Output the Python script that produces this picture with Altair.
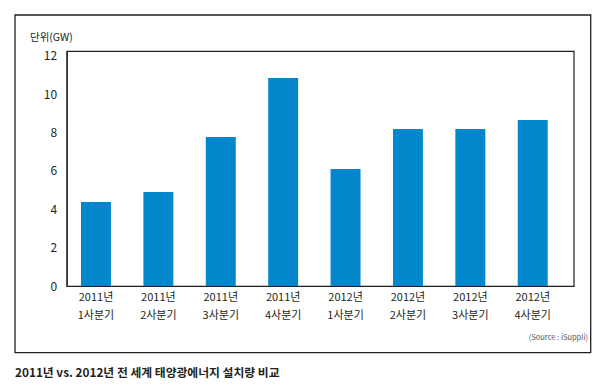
import altair as alt
import pandas as pd

years = ["2011년", "2011년", "2011년", "2011년", "2012년", "2012년", "2012년", "2012년"]
quarters = ["1사분기", "2사분기", "3사분기", "4사분기", "1사분기", "2사분기", "3사분기", "4사분기"]
values = [4.38, 4.9, 7.77, 10.85, 6.1, 8.19, 8.19, 8.66]
y_ticks = [0, 2, 4, 6, 8, 10, 12]

title_text = "2011년 vs. 2012년 전 세계 태양광에너지 설치량 비교"
unit_text = "단위(GW)"
source_text = "(Source : iSuppli)"

FONT = "Noto Sans CJK KR"
W, H = 507, 235

df = pd.DataFrame({
    "cat": [f"{y}\n{q}" for y, q in zip(years, quarters)],
    "value": values,
})
one = pd.DataFrame({"a": [0]})

bars = alt.Chart(df).mark_bar(color="#0386cc").encode(
    x=alt.X("cat:N", sort=None,
            scale=alt.Scale(paddingInner=0.52, paddingOuter=0.323, align=0.355),
            axis=alt.Axis(title=None, labelAngle=0, ticks=False, domain=True,
                          domainColor="#231f20", domainWidth=1.2,
                          labelExpr="split(datum.label, '\\n')",
                          labelFont=FONT, labelFontSize=11, labelColor="#231f20",
                          labelLineHeight=18, labelPadding=5, labelBaseline="top")),
    y=alt.Y("value:Q",
            scale=alt.Scale(domain=[0, 12.26], nice=False, zero=True),
            axis=alt.Axis(title=None, values=y_ticks, ticks=False, grid=False,
                          domain=True, domainColor="#231f20", domainWidth=1.2,
                          labelFont=FONT, labelFontSize=12, labelColor="#231f20",
                          labelPadding=10)),
)

frame = alt.Chart(one).mark_rect(fill=None, stroke="#231f20", strokeWidth=1.3, clip=False).encode(
    x=alt.value(-51.7), x2=alt.value(524), y=alt.value(-36), y2=alt.value(301.7)
)

unit = alt.Chart(one).mark_text(align="left", baseline="middle", font=FONT,
                                fontSize=10.5, color="#231f20", clip=False).encode(
    x=alt.value(-36.7), y=alt.value(-13), text=alt.value(unit_text)
)

source = alt.Chart(one).mark_text(align="right", baseline="middle", font=FONT,
                                  fontSize=7.5, color="#555555", clip=False).encode(
    x=alt.value(521.3), y=alt.value(287), text=alt.value(source_text)
)

title = alt.Chart(one).mark_text(align="left", baseline="middle", font=FONT,
                                 fontSize=11.8, fontWeight=600, color="#231f20", clip=False).encode(
    x=alt.value(-51.7), y=alt.value(322), text=alt.value(title_text)
)

chart = alt.layer(bars, frame, unit, source, title).properties(
    width=W, height=H,
    autosize=alt.AutoSizeParams(type="none"),
    padding={"left": 58.7, "top": 43, "right": 22.3, "bottom": 96},
    background="white",
).configure_view(stroke="#231f20", strokeWidth=1.2)

chart.save("out.html", embed_options={"renderer": "svg", "actions": False})
